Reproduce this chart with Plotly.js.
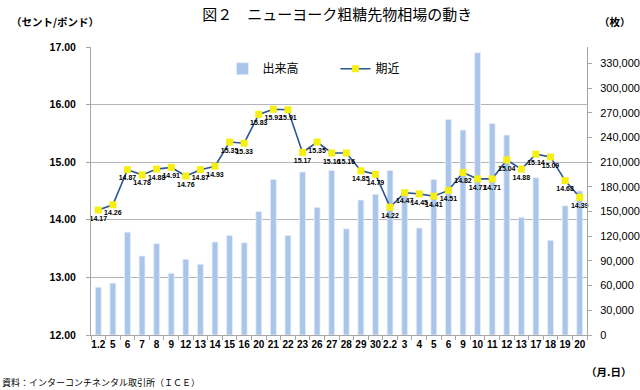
<!DOCTYPE html>
<html>
<head>
<meta charset="utf-8">
<script src="https://cdn.plot.ly/plotly-3.0.1.min.js"></script>
<style>html,body{margin:0;padding:0;background:#fff;}#chart{width:640px;height:390px;}</style>
</head>
<body>
<div id="chart"></div>
<script>
const dateLabels = ["1.2","5","6","7","8","9","12","13","14","15","16","20","21","22","23","26","27","28","29","30","2.2","3","4","5","6","9","10","11","12","13","17","18","19","20"];
const volume = [58000,63000,125000,96000,111000,75000,92000,86000,113000,121000,112000,150000,189000,121000,198000,155000,200000,129000,164000,171000,200000,173000,130000,189000,262000,249000,343000,257000,243000,143000,191000,115000,157000,175000];
const nearby = [14.17,14.26,14.87,14.78,14.88,14.91,14.76,14.87,14.93,15.35,15.33,15.83,15.92,15.91,15.17,15.35,15.16,15.16,14.85,14.79,14.22,14.47,14.45,14.41,14.51,14.82,14.71,14.71,15.04,14.88,15.14,15.09,14.68,14.39];

const idx = dateLabels.map((_, i) => i);
const jp = '"Noto Sans CJK JP", sans-serif';
const num = '"Liberation Sans", Arial, sans-serif';

const traces = [
  {
    type: 'bar', name: '出来高', x: idx, y: volume, yaxis: 'y',
    width: 0.4,
    marker: {color: '#a9c5ea', line: {color: '#e6eef9', width: 0.8}},
    hoverinfo: 'skip'
  },
  {
    type: 'scatter', mode: 'lines+markers+text', name: '期近', x: idx, y: nearby, yaxis: 'y2',
    line: {color: '#2b5594', width: 1.6},
    marker: {symbol: 'square', size: 7, color: '#f5f012', line: {width: 0}},
    text: nearby.map(v => v.toFixed(2)),
    textposition: 'bottom center',
    textfont: {family: num, size: 7, color: '#000', weight: 'bold'},
    cliponaxis: false
  }
];

const layout = {
  width: 640, height: 390,
  margin: {l: 91, r: 53, t: 47, b: 55},
  paper_bgcolor: '#fff', plot_bgcolor: '#fff',
  showlegend: true,
  legend: {orientation: 'h', x: 0.265, y: 0.975, xanchor: 'left', yanchor: 'top',
           font: {family: jp, size: 12, color: '#000'}, bgcolor: 'rgba(0,0,0,0)', traceorder: 'normal',
           entrywidth: 68, entrywidthmode: 'pixels'},
  title: {text: '図２　ニューヨーク粗糖先物相場の動き', x: 0.527, xanchor: 'center', y: 0.975, yanchor: 'top',
          font: {family: jp, size: 15, color: '#000'}},
  xaxis: {
    range: [-0.5, 33.5], tickmode: 'array', tickvals: idx, ticktext: dateLabels, tickangle: 0,
    ticks: '', showgrid: false, zeroline: false,
    showline: true, linecolor: '#a6a6a6', linewidth: 1,
    tickfont: {family: num, size: 10, color: '#000', weight: 'bold'},
    minor: {tickmode: 'linear', tick0: 0.5, dtick: 1, ticks: 'outside', ticklen: 4, tickcolor: '#a6a6a6', showgrid: false},
    fixedrange: true
  },
  yaxis: {
    side: 'right', range: [0, 350000], tickmode: 'linear', tick0: 0, dtick: 30000,
    tickformat: ',d', showgrid: false, zeroline: false,
    showline: true, linecolor: '#a6a6a6', ticks: 'outside', ticklen: 4, tickcolor: '#a6a6a6',
    tickfont: {family: num, size: 11, color: '#000'}, ticklabelstandoff: 6
  },
  yaxis2: {
    overlaying: 'y', side: 'left', range: [12, 17], tickmode: 'linear', tick0: 12, dtick: 1,
    tickformat: '.2f', showgrid: true, gridcolor: '#b5b5b5', gridwidth: 1, zeroline: false,
    showline: true, linecolor: '#a6a6a6', ticks: 'outside', ticklen: 4, tickcolor: '#a6a6a6',
    tickfont: {family: num, size: 10.5, color: '#000', weight: 'bold'}, ticklabelstandoff: 8
  },
  annotations: [
    {text: '（セント/ポンド）', xref: 'paper', yref: 'paper', x: -0.165, y: 1.09, xanchor: 'left', yanchor: 'middle', showarrow: false,
     font: {family: jp, size: 10.5, color: '#000', weight: 'bold'}},
    {text: '（枚）', xref: 'paper', yref: 'paper', x: 1.093, y: 1.09, xanchor: 'right', yanchor: 'middle', showarrow: false,
     font: {family: jp, size: 10.5, color: '#000', weight: 'bold'}},
    {text: '（月.日）', xref: 'paper', yref: 'paper', x: 1.093, y: -0.128, xanchor: 'right', yanchor: 'middle', showarrow: false,
     font: {family: jp, size: 10.5, color: '#000', weight: 'bold'}},
    {text: '資料：インターコンチネンタル取引所（ＩＣＥ）', xref: 'paper', yref: 'paper', x: -0.183, y: -0.165, xanchor: 'left', yanchor: 'middle', showarrow: false,
     font: {family: jp, size: 9, color: '#000'}}
  ]
};

Plotly.newPlot('chart', traces, layout, {displayModeBar: false, staticPlot: true});
</script>
</body>
</html>
